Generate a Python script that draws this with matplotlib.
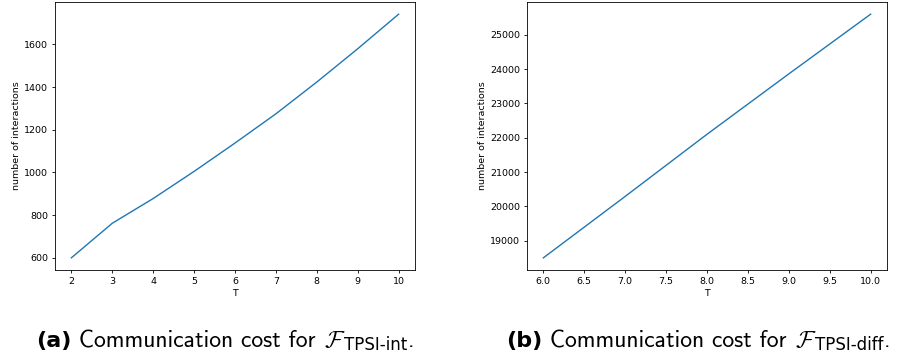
import matplotlib
matplotlib.use('Agg')
import matplotlib.pyplot as plt

# data
T_int = [2, 3, 4, 5, 6, 7, 8, 9, 10]
cost_int = [600, 762, 878, 1005, 1138, 1275, 1424, 1580, 1742]

T_diff = [6, 7, 8, 9, 10]
cost_diff = [18500, 20290, 22100, 23860, 25600]

plt.rcParams['font.size'] = 6.8
plt.rcParams['axes.linewidth'] = 0.6
plt.rcParams['xtick.major.width'] = 0.6
plt.rcParams['ytick.major.width'] = 0.6
plt.rcParams['xtick.major.size'] = 2.4
plt.rcParams['ytick.major.size'] = 2.4
plt.rcParams['xtick.major.pad'] = 2.4
plt.rcParams['ytick.major.pad'] = 2.4
plt.rcParams['axes.labelpad'] = 2.4

W, H = 897, 356
fig = plt.figure(figsize=(W / 100, H / 100), dpi=100)

ax1 = fig.add_axes([55 / W, 1 - 270 / H, 360 / W, 268 / H])
ax1.plot(T_int, cost_int, color='#1f77b4', linewidth=1.0)
ax1.set_xlabel('T')
ax1.set_ylabel('number of interactions')

ax2 = fig.add_axes([527 / W, 1 - 270 / H, 360 / W, 268 / H])
ax2.plot(T_diff, cost_diff, color='#1f77b4', linewidth=1.0)
ax2.set_xlabel('T')
ax2.set_ylabel('number of interactions')


def chain(x0, y0, parts):
    # place text pieces one after another on a common baseline (pixels)
    r = fig.canvas.get_renderer()
    x = x0
    for s, kw, dx, dy in parts:
        t = fig.text((x + dx) / W, (y0 + dy) / H, s, va='baseline', **kw)
        x = t.get_window_extent(r).x1 + dx


for x0, letter, sub in [(36, '(a)', 'TPSI-int'), (506, '(b)', 'TPSI-diff')]:
    chain(x0, H - 347, [
        (letter, dict(fontsize=16, fontweight='bold', family='DejaVu Sans'), 0, 0),
        (' Communication cost for ', dict(fontsize=17, family='cmss10'), 0, 0),
        (r'$\mathcal{F}$', dict(fontsize=17, math_fontfamily='cm'), 0, 0),
        (sub, dict(fontsize=12, family='DejaVu Sans', fontweight='medium'), -1, -3),
        ('.', dict(fontsize=17, family='cmss10'), 1, 0),
    ])

fig.savefig('out.png', dpi=100)
